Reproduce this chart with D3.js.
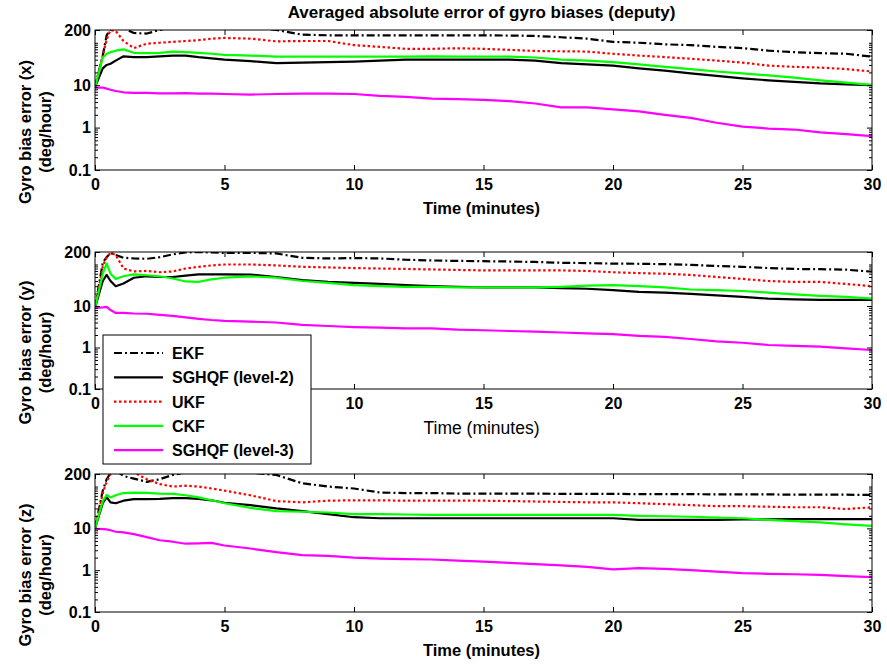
<!DOCTYPE html>
<html>
<head>
<meta charset="utf-8">
<script src="https://cdnjs.cloudflare.com/ajax/libs/d3/7.8.5/d3.min.js"></script>
<style>
  html, body { margin: 0; padding: 0; background: #fff; }
  svg { display: block; font-family: "Liberation Sans", Arial, sans-serif; }
</style>
</head>
<body>
<svg id="chart" width="887" height="665"></svg>
<script>
// ---------------- DATA ----------------
const titleText = "Averaged absolute error of gyro biases (deputy)";
const axisNames = ["x", "y", "z"];
const xTicks = [0, 5, 10, 15, 20, 25, 30];
const yTicks = [0.1, 1, 10, 200];
const yTickLabels = ["0.1", "1", "10", "200"];
const seriesNames = ["EKF", "SGHQF (level-2)", "UKF", "CKF", "SGHQF (level-3)"];

const time = [0, 0.3, 0.45, 0.6, 0.8, 1.1, 1.5, 2, 2.5, 3, 3.5, 4, 4.5, 5, 6, 7, 8, 9, 10,
  11, 12, 13, 14, 15, 16, 17, 18, 19, 20, 21, 22, 23, 24, 25, 26, 27, 28, 29, 30];

// subplot x
const ekfX   = [9, 50, 150, 210, 240, 220, 170, 165, 200, 240, 260, 260, 260, 250, 240, 200, 155, 150, 150,
  150, 150, 150, 150, 150, 148, 145, 135, 125, 105, 100, 92, 88, 80, 75, 65, 60, 57, 55, 47];
const sg2X   = [9, 25, 30, 32, 38, 48, 46, 46, 48, 50, 50, 46, 43, 40, 37, 33, 34, 35, 36,
  38, 40, 40, 40, 40, 40, 38, 33, 31, 29, 25, 22, 19, 16.5, 14.5, 13, 12, 11, 10.5, 10];
const ukfX   = [9, 50, 120, 200, 190, 110, 75, 95, 100, 105, 110, 115, 125, 130, 125, 108, 110, 110, 88,
  80, 72, 72, 74, 72, 68, 64, 63, 62, 55, 50, 46, 42, 38, 34, 29, 27, 26, 24, 21];
const ckfX   = [9, 45, 55, 60, 65, 70, 58, 57, 58, 62, 60, 58, 55, 52, 50, 47, 47, 47, 47,
  47, 47, 48, 47, 47, 47, 45, 40, 38, 35, 31, 27, 24, 21, 19, 17, 15, 13, 11.5, 10.2];
const sg3X   = [8.8, 8.8, 8.3, 7.8, 7.3, 6.8, 6.6, 6.6, 6.4, 6.4, 6.5, 6.3, 6.3, 6.2, 6.0, 6.2, 6.3, 6.3, 6.2,
  5.6, 5.3, 4.8, 4.7, 4.5, 4.2, 3.7, 3.0, 3.0, 2.7, 2.4, 2.0, 1.7, 1.3, 1.05, 0.95, 0.9, 0.77, 0.7, 0.63];

// subplot y
const ekfY   = [9, 110, 150, 190, 170, 145, 140, 137, 150, 175, 195, 200, 195, 190, 190, 185, 145, 140, 143,
  140, 130, 125, 122, 120, 118, 115, 110, 108, 105, 104, 102, 98, 92, 88, 82, 78, 77, 75, 67];
const sg2Y   = [9, 40, 56, 40, 30, 35, 48, 52, 50, 50, 54, 58, 58, 58, 57, 50, 42, 38, 36,
  34, 32, 30, 29, 28, 28, 28, 27, 26, 24, 22, 21, 19.5, 18, 16.5, 15, 14.5, 14, 14, 14];
const ukfY   = [9, 90, 150, 190, 170, 80, 68, 70, 65, 68, 80, 88, 95, 100, 100, 95, 88, 85, 82,
  80, 78, 76, 74, 72, 72, 72, 72, 70, 65, 62, 60, 56, 50, 45, 40, 38, 38, 34, 30];
const ckfY   = [9, 60, 105, 60, 45, 52, 58, 55, 52, 46, 39, 38, 44, 48, 52, 48, 40, 36, 32,
  30, 29, 29, 28, 28, 28, 28, 29, 31, 32, 30, 28, 25, 24, 23, 21, 19, 17.5, 16.5, 15];
const sg3Y   = [9, 9.3, 9.5, 8, 6.8, 6.8, 6.6, 6.5, 6.1, 5.8, 5.3, 4.9, 4.6, 4.4, 4.2, 4.0, 3.5, 3.3, 3.1,
  3.0, 2.9, 2.9, 2.7, 2.6, 2.5, 2.4, 2.3, 2.2, 2.1, 1.9, 1.8, 1.6, 1.4, 1.3, 1.15, 1.1, 1.05, 0.95, 0.87];

// subplot z
const ekfZ   = [10, 80, 150, 210, 240, 180, 155, 130, 150, 190, 220, 240, 240, 230, 215, 190, 120, 100, 90,
  72, 70, 70, 68, 68, 68, 68, 67, 67, 67, 66, 66, 66, 65, 65, 65, 64, 64, 64, 63];
const sg2Z   = [10, 40, 56, 42, 40, 46, 50, 50, 51, 53, 53, 51, 47, 41, 36, 30, 26, 22, 18.5,
  17.5, 17.5, 17.5, 17.5, 17.5, 17.5, 17.5, 17.5, 17.5, 17.5, 16, 16, 16, 16, 16.5, 16.5, 16.7, 16.7, 16.7, 16.7];
const ukfZ   = [10, 70, 130, 200, 240, 260, 220, 150, 115, 100, 105, 100, 90, 80, 62, 45, 42, 46, 47,
  47, 46, 46, 46, 46, 45, 44, 43, 42, 42, 40, 38, 36, 34, 34, 33, 32, 32, 29, 32];
const ckfZ   = [10, 45, 63, 55, 62, 70, 72, 71, 68, 67, 62, 55, 47, 40, 31, 26, 25, 24, 22,
  22, 21.5, 21, 21, 21, 21, 21, 21, 21, 21, 20, 19.5, 19, 18, 17.5, 16, 15, 14, 12.5, 11.5];
const sg3Z   = [9.8, 9.6, 9.5, 9.0, 8.3, 8.0, 7.3, 6.2, 5.2, 4.8, 4.3, 4.4, 4.5, 3.9, 3.3, 2.7, 2.3, 2.2, 2.0,
  1.9, 1.85, 1.8, 1.7, 1.6, 1.5, 1.4, 1.3, 1.2, 1.05, 1.12, 1.08, 1.0, 0.92, 0.85, 0.82, 0.8, 0.77, 0.72, 0.68];

const panelsData = [
  [ekfX, sg2X, ukfX, ckfX, sg3X],
  [ekfY, sg2Y, ukfY, ckfY, sg3Y],
  [ekfZ, sg2Z, ukfZ, ckfZ, sg3Z]
];

// ---------------- STYLES / LAYOUT ----------------
const styles = [
  { color: "#000000", dash: "8,3,2,3" },
  { color: "#000000", dash: null },
  { color: "#ff0000", dash: "2.5,2.5" },
  { color: "#00ff00", dash: null },
  { color: "#ff00ff", dash: null }
];
const left = 95, right = 872;
const panels = [
  { top: 30, bottom: 170, labelY: 214, labelBold: true },
  { top: 252, bottom: 389, labelY: 434, labelBold: false },
  { top: 474, bottom: 612, labelY: 656, labelBold: true }
];
const TICKFONT = 16;
const LABELFONT = 16.5;

const svg = d3.select("#chart");
const x = d3.scaleLinear().domain([0, 30]).range([left, right]);

const minorTicks = [];
[0.1, 1, 10, 100].forEach(d => { for (let k = 2; k <= 9; k++) { const v = d * k; if (v < 200) minorTicks.push(v); } });
minorTicks.push(100);

svg.append("text")
  .attr("x", (left + right) / 2 - 2).attr("y", 18)
  .attr("text-anchor", "middle")
  .attr("font-size", 17).attr("font-weight", "bold")
  .text(titleText);

panels.forEach((p, i) => {
  const y = d3.scaleLog().domain([0.1, 200]).range([p.bottom, p.top]);
  const g = svg.append("g");

  const clipId = "clip" + i;
  svg.append("clipPath").attr("id", clipId)
    .append("rect").attr("x", left).attr("y", p.top).attr("width", right - left).attr("height", p.bottom - p.top);

  // lines
  const line = d3.line().x((d, k) => x(time[k])).y(d => y(d));
  const lg = g.append("g").attr("clip-path", `url(#${clipId})`);
  panelsData[i].forEach((vals, s) => {
    lg.append("path")
      .attr("d", line(vals))
      .attr("fill", "none")
      .attr("stroke", styles[s].color)
      .attr("stroke-width", 2.2)
      .attr("stroke-dasharray", styles[s].dash)
      .attr("stroke-linejoin", "round");
  });

  // axes
  const axL = g.append("g").attr("transform", `translate(${left},0)`)
    .call(d3.axisLeft(y).tickValues(yTicks).tickSize(-5).tickPadding(4)
      .tickFormat((d, k) => yTickLabels[k]));
  const axLm = g.append("g").attr("transform", `translate(${left},0)`)
    .call(d3.axisLeft(y).tickValues(minorTicks).tickSize(-3).tickFormat(""));
  const axR = g.append("g").attr("transform", `translate(${right},0)`)
    .call(d3.axisRight(y).tickValues(yTicks).tickSize(-5).tickFormat(""));
  const axRm = g.append("g").attr("transform", `translate(${right},0)`)
    .call(d3.axisRight(y).tickValues(minorTicks).tickSize(-3).tickFormat(""));
  const axB = g.append("g").attr("transform", `translate(0,${p.bottom})`)
    .call(d3.axisBottom(x).tickValues(xTicks).tickSize(-5).tickPadding(9).tickFormat(d3.format("d")));
  const axT = g.append("g").attr("transform", `translate(0,${p.top})`)
    .call(d3.axisTop(x).tickValues(xTicks).tickSize(-5).tickFormat(""));
  [axL, axLm, axR, axRm, axB, axT].forEach(a => {
    a.select(".domain").remove();
    a.selectAll("line").attr("stroke", "#000").attr("stroke-width", 1);
    a.selectAll("text").attr("font-size", TICKFONT).attr("font-weight", "bold")
      .attr("fill", "#000").attr("font-family", "Liberation Sans, Arial, sans-serif");
  });
  axB.selectAll("text").attr("dy", "0.71em");

  g.append("rect").attr("x", left).attr("y", p.top)
    .attr("width", right - left).attr("height", p.bottom - p.top)
    .attr("fill", "none").attr("stroke", "#000").attr("stroke-width", 1);

  // y label
  const cy = (p.top + p.bottom) / 2 + 32;
  const yl = g.append("text")
    .attr("transform", `translate(31,${cy}) rotate(-90)`)
    .attr("text-anchor", "middle")
    .attr("font-size", LABELFONT).attr("font-weight", "bold");
  yl.append("tspan").attr("x", 0).attr("y", 0).text(`Gyro bias error (${axisNames[i]})`);
  yl.append("tspan").attr("x", 0).attr("y", 20).text("(deg/hour)");

  // x label
  g.append("text")
    .attr("x", (left + right) / 2 - 2).attr("y", p.labelY)
    .attr("text-anchor", "middle")
    .attr("font-size", p.labelBold ? LABELFONT : 17.5).attr("font-weight", p.labelBold ? "bold" : "normal")
    .text("Time (minutes)");
});

// legend
const leg = svg.append("g");
leg.append("rect").attr("x", 103).attr("y", 335).attr("width", 208).attr("height", 129)
  .attr("fill", "#fff").attr("stroke", "#000").attr("stroke-width", 1);
seriesNames.forEach((name, s) => {
  const cy = 353 + s * 24.3;
  leg.append("line").attr("x1", 114).attr("x2", 163).attr("y1", cy).attr("y2", cy)
    .attr("stroke", styles[s].color).attr("stroke-width", 2.2)
    .attr("stroke-dasharray", styles[s].dash);
  leg.append("text").attr("x", 172).attr("y", cy + 6)
    .attr("font-size", 16).attr("font-weight", "bold")
    .text(name);
});
</script>
</body>
</html>
